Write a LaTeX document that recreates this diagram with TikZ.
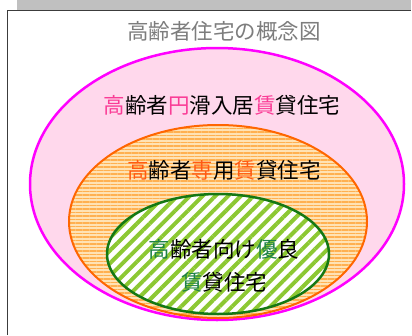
\documentclass[tikz,border=0pt]{standalone}
\usepackage{fontspec}
\newfontfamily\cjk{Noto Sans CJK JP}
\usetikzlibrary{shapes.geometric,patterns.meta}
\definecolor{barGray}{RGB}{192,192,192}
\definecolor{frameDark}{RGB}{60,60,60}
\definecolor{titleGray}{RGB}{125,125,125}
\definecolor{pinkFill}{RGB}{255,216,236}
\definecolor{magentaLine}{RGB}{255,0,255}
\definecolor{pinkText}{RGB}{250,60,150}
\definecolor{orangeLine}{RGB}{255,102,0}
\definecolor{orangeLight}{RGB}{255,226,180}
\definecolor{orangeStripe}{RGB}{255,176,80}
\definecolor{orangeText}{RGB}{255,90,20}
\definecolor{greenLine}{RGB}{20,120,20}
\definecolor{greenStripe}{RGB}{140,200,50}
\definecolor{greenText}{RGB}{30,130,70}
\tikzset{
  ring/.style={ellipse, inner sep=0pt, line width=2pt},
  lbl/.style={font=\cjk\fontsize{21.5}{33}\selectfont, text=black, inner sep=0pt, align=center},
}
\begin{document}
\begin{tikzpicture}[x=1pt,y=-1pt]
\useasboundingbox (0,0) rectangle (412,335);
\fill[white] (0,0) rectangle (412,335);
% top bar and frame
\fill[barGray] (17,0) rectangle (411,9.5);
\draw[frameDark, line width=1.5pt] (7.5,335) -- (7.5,10.5) -- (411,10.5);
% title
\node[lbl, text=titleGray] (title) at (224,31) {高齢者住宅の概念図};
% outer ellipse
\node[ring, draw=magentaLine, line width=2.5pt, fill=pinkFill, minimum width=374pt, minimum height=272pt] (outer) at (217,184) {};
% middle ellipse
\node[ring, draw=orangeLine, preaction={fill=orangeLight},
      pattern={Lines[distance=3.5pt, line width=1.6pt]}, pattern color=orangeStripe,
      minimum width=298pt, minimum height=193pt] (middle) at (218,221.5) {};
% inner ellipse
\node[ring, draw=greenLine, line width=2.5pt, preaction={fill=white},
      pattern={Lines[angle=45, distance=9pt, line width=4pt]}, pattern color=greenStripe,
      minimum width=222pt, minimum height=120pt] (inner) at (218,254) {};
% labels
\node[lbl] (t1) at (222,105) {\textcolor{pinkText}{高}齢者\textcolor{pinkText}{円}滑入居\textcolor{pinkText}{賃}貸住宅};
\node[lbl] (t2) at (224,170) {\textcolor{orangeText}{高}齢者\textcolor{orangeText}{専}用\textcolor{orangeText}{賃}貸住宅};
\node[lbl] (t3) at (224,265.5) {\textcolor{greenText}{高}齢者向け\textcolor{greenText}{優}良\\\textcolor{greenText}{賃}貸住宅};
\end{tikzpicture}
\end{document}
